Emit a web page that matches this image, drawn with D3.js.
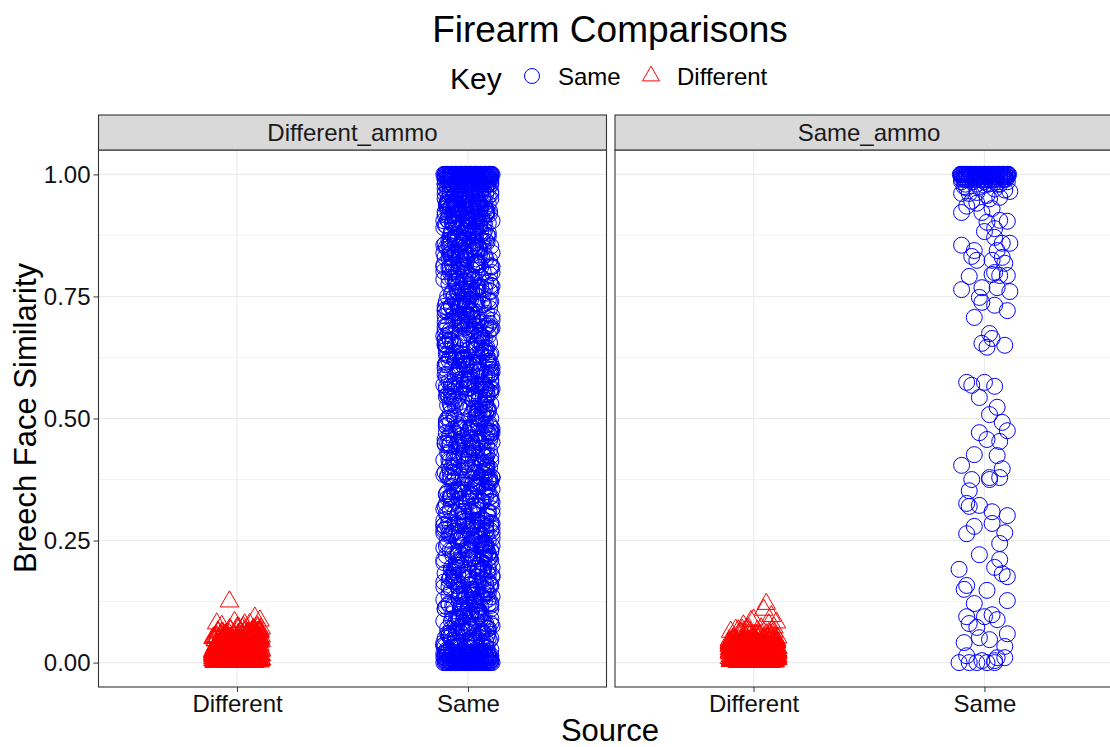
<!DOCTYPE html>
<html>
<head>
<meta charset="utf-8">
<script src="https://cdn.jsdelivr.net/npm/d3@7"></script>
<style>
body { margin: 0; background: #fff; }
svg text { font-family: "Liberation Sans", Arial, sans-serif; }
</style>
</head>
<body>
<div id="chart"></div>
<script>
// ---- data ----
const panels = ["Different_ammo", "Same_ammo"]
const sources = ["Different", "Same"]
const yTicks = [0, 0.25, 0.5, 0.75, 1]
const yMinor = [0.125, 0.375, 0.625, 0.875]

// jitter offsets, in units of jitterStep (a fraction of one category)
const jitterStep = 0.011
const jitA = [
  -7,3,8,-2,5,-9,1,6,-4,0, 9,-6,2,-8,4,-1,7,-5,3,-3,
  6,-8,0,4,-5,9,-2,7,-9,1, -4,5,-7,3,8,-1,-6,2,9,-3,
  -1,7,-5,2,9,-8,4,-3,6,0, -7,3,8,-4,1,-9,5,-2,7,-6,
  4,-2,9,-6,1,7,-9,3,-4,8, 0,-7,5,-1,6,-8,2,9,-3,-5,
  -9,5,-3,8,-6,2,0,-8,4,7, -2,9,-5,1,-7,6,3,-4,8,-1,
  2,-6,7,-1,9,-4,5,-9,0,3, -8,6,-3,8,-5,1,-7,4,-2,9,
  8,-3,1,-7,4,6,-9,2,-5,9, -1,-6,7,0,-4,3,-8,5,-2,6,
  -5,9,-2,5,-8,0,3,-6,8,-3, 6,-9,1,4,-7,7,-1,-4,9,2,
  3,-7,6,0,-4,8,-2,-9,5,-6, 9,1,-3,7,-8,4,-5,2,-1,8,
  -4,1,-8,9,3,-6,7,-1,-3,5, -9,2,8,-5,0,6,-7,4,9,-2,
  7,-4,2,-9,6,-1,8,-5,3,-7, 0,9,-3,5,-8,1,4,-6,-2,7,
  -2,8,-6,3,-9,5,-4,1,9,-5, 2,-8,6,-3,7,-7,0,8,-1,4,
  5,-1,9,-7,0,3,-5,8,-2,6, -9,4,-6,2,-3,9,-8,1,7,-4,
  -8,4,-3,6,8,-2,1,-7,5,-4, 3,-9,7,-6,9,0,-5,2,-1,6,
  1,-9,5,-4,7,-3,9,0,-6,8, -5,3,-1,6,-8,2,-2,9,-7,4
]
const jitB = [
  -8.5,2.5,6.5,-3.5,9.5,-0.5,4.5,-6.5,1.5,-9.5, 7.5,-4.5,0.5,8.5,-2.5,5.5,-7.5,3.5,-1.5,-5.5,
  3.5,-9.5,7.5,-1.5,5.5,-6.5,0.5,9.5,-3.5,2.5, -8.5,6.5,-4.5,1.5,-0.5,8.5,-5.5,4.5,-7.5,-2.5,
  9.5,-2.5,-6.5,4.5,-8.5,1.5,7.5,-0.5,-4.5,5.5, 2.5,-9.5,8.5,-3.5,0.5,-7.5,6.5,-1.5,3.5,-5.5,
  -4.5,7.5,0.5,-8.5,3.5,-1.5,9.5,-5.5,5.5,-2.5, -6.5,1.5,4.5,-9.5,8.5,-0.5,2.5,-3.5,6.5,-7.5,
  1.5,-5.5,8.5,-7.5,-0.5,6.5,-3.5,2.5,-9.5,4.5, 9.5,-1.5,-4.5,7.5,-6.5,0.5,5.5,-8.5,3.5,-2.5,
  -6.5,4.5,-1.5,9.5,-4.5,0.5,-8.5,6.5,2.5,-3.5, 5.5,-7.5,1.5,-0.5,7.5,-5.5,3.5,8.5,-9.5,-2.5,
  5.5,-0.5,-9.5,2.5,7.5,-5.5,3.5,-2.5,8.5,-7.5, 0.5,4.5,-6.5,9.5,-1.5,-4.5,6.5,1.5,-8.5,3.5,
  -2.5,8.5,-5.5,0.5,-7.5,4.5,-3.5,6.5,-9.5,1.5, -0.5,7.5,-4.5,2.5,5.5,-8.5,9.5,-6.5,-1.5,3.5,
  7.5,-3.5,3.5,-6.5,0.5,-9.5,5.5,-1.5,8.5,-4.5, -7.5,2.5,6.5,-2.5,9.5,-5.5,1.5,-8.5,4.5,-0.5,
  -0.5,6.5,-7.5,3.5,-2.5,8.5,-5.5,1.5,4.5,-8.5, 9.5,-3.5,-1.5,5.5,-9.5,2.5,7.5,-4.5,0.5,-6.5,
  4.5,-8.5,1.5,-4.5,6.5,-2.5,9.5,-6.5,-0.5,3.5, -5.5,8.5,0.5,-7.5,2.5,-3.5,5.5,-9.5,7.5,-1.5,
  -9.5,0.5,5.5,-2.5,8.5,-6.5,2.5,-4.5,6.5,-1.5, 3.5,-8.5,7.5,-5.5,-0.5,4.5,-7.5,9.5,1.5,-3.5,
  2.5,-6.5,9.5,-0.5,-5.5,3.5,-8.5,7.5,0.5,-3.5, 6.5,-1.5,-9.5,4.5,-4.5,8.5,-2.5,1.5,-7.5,5.5,
  -5.5,3.5,-2.5,7.5,1.5,-9.5,4.5,-7.5,9.5,-0.5, -3.5,5.5,-6.5,0.5,8.5,-4.5,2.5,-1.5,6.5,-8.5,
  0.5,-4.5,6.5,-8.5,3.5,-3.5,8.5,-1.5,-6.5,5.5, -9.5,2.5,-0.5,7.5,-5.5,4.5,-7.5,1.5,9.5,-2.5
]
const topJit = [
  -9.5,-8.5,-7.5,-6.5,-5.5,-4.5,-3.5,-2.5,-1.5,-0.5, 0.5,1.5,2.5,3.5,4.5,5.5,6.5,7.5,8.5,9.5,
  -9,-7,-5,-3,-1,1,3,5,7,9, -8,-6,-4,-2,0,2,4,6,8,-9,
  -7.5,-3.5,0.5,4.5,8.5,-9,-7.5,-6,-4.5,-3, -1.5,0,1.5,3,4.5,6,7.5,9,-8,5,
  -6,-4,-2,0,2,4,6,8,-9,-3, 1,-9,-7,-5,-3,-1,1,3,5,7,
  9,-8,-9,-6,-3,0,3,6,9,-1, -8,-4,0,4,8,-6,-7,-2,2,7
]

// Different_ammo, Same source (blue circles)
const daSameMid = [
  .53,.12,.88,.31,.67,.05,.79,.44,.22,.91, .60,.36,.15,.72,.49,.83,.27,.08,.64,.40,
  .19,.75,.57,.03,.86,.33,.46,.69,.11,.93, .25,.81,.38,.55,.07,.62,.90,.29,.47,.16,
  .70,.42,.84,.13,.58,.35,.77,.21,.51,.04, .66,.89,.30,.45,.10,.73,.56,.18,.92,.39,
  .26,.61,.09,.80,.48,.34,.71,.14,.87,.52, .24,.68,.02,.43,.85,.59,.32,.76,.20,.50,
  .65,.06,.82,.37,.54,.17,.74,.28,.93,.41, .63,.11,.78,.46,.23,.88,.57,.35,.69,.14,
  .44,.90,.27,.60,.08,.71,.38,.83,.19,.52, .67,.04,.79,.31,.56,.15,.86,.42,.24,.74,
  .12,.58,.35,.81,.47,.22,.66,.91,.03,.53, .29,.76,.40,.64,.18,.85,.50,.09,.70,.33,
  .87,.21,.62,.45,.06,.77,.36,.55,.13,.89, .41,.68,.26,.82,.49,.16,.73,.30,.59,.05,
  .39,.80,.15,.57,.92,.25,.48,.72,.10,.63, .34,.84,.20,.51,.07,.75,.43,.61,.28,.90,
  .54,.02,.69,.37,.86,.23,.46,.78,.14,.60, .32,.88,.05,.65,.42,.17,.81,.27,.50,.93,
  .08,.73,.44,.61,.19,.84,.35,.57,.91,.26, .70,.12,.48,.79,.38,.03,.66,.22,.87,.53,
  .31,.67,.10,.82,.45,.24,.76,.58,.16,.92, .40,.63,.06,.71,.29,.85,.52,.18,.74,.36,
  .77,.13,.56,.34,.89,.04,.62,.47,.21,.80, .39,.68,.09,.54,.83,.27,.45,.72,.15,.60,
  .43,.85,.20,.64,.07,.78,.33,.51,.93,.25, .69,.11,.56,.37,.81,.02,.74,.48,.30,.90,
  .16,.59,.38,.87,.28,.70,.05,.47,.83,.19, .62,.41,.76,.09,.55,.34,.88,.23,.66,.50
]
const daSameMid2 = [
  .345,.785,.125,.565,.905,.235,.675,.055,.455,.815, .185,.625,.395,.045,.735,.275,.865,.515,.095,.705,
  .645,.165,.925,.425,.285,.755,.035,.595,.335,.875, .485,.215,.685,.105,.825,.375,.545,.015,.915,.255,
  .075,.535,.265,.845,.615,.145,.405,.775,.195,.665, .925,.315,.475,.065,.725,.575,.235,.895,.435,.115,
  .805,.355,.695,.025,.505,.885,.175,.635,.295,.745, .085,.445,.835,.205,.555,.325,.935,.135,.685,.415,
  .245,.895,.465,.155,.715,.385,.605,.045,.855,.525, .275,.795,.015,.645,.195,.905,.365,.565,.085,.765,
  .555,.095,.745,.315,.875,.215,.485,.665,.125,.835, .405,.055,.595,.925,.265,.715,.175,.455,.785,.335,
  .035,.675,.385,.815,.145,.535,.905,.255,.725,.445, .625,.105,.865,.305,.495,.065,.765,.215,.585,.935,
  .465,.825,.185,.575,.025,.695,.355,.885,.235,.615, .915,.425,.075,.735,.285,.545,.135,.845,.395,.655,
  .705,.225,.505,.935,.425,.085,.655,.295,.795,.165, .545,.865,.245,.015,.605,.375,.755,.115,.485,.895,
  .135,.585,.855,.275,.695,.435,.005,.765,.515,.345, .195,.725,.625,.065,.905,.285,.475,.835,.225,.565,
  .895,.305,.045,.635,.375,.805,.255,.525,.925,.155, .455,.695,.345,.775,.105,.605,.865,.035,.715,.185,
  .415,.765,.575,.115,.925,.325,.845,.205,.645,.065, .735,.495,.875,.165,.385,.915,.265,.685,.005,.525,
  .615,.045,.285,.735,.505,.185,.935,.395,.075,.855, .225,.565,.155,.815,.445,.655,.025,.375,.905,.245,
  .185,.915,.445,.055,.805,.265,.595,.725,.355,.005, .665,.135,.885,.475,.215,.775,.545,.095,.835,.325,
  .755,.355,.635,.895,.105,.485,.215,.865,.545,.285, .035,.925,.405,.625,.175,.815,.055,.705,.265,.465
]
const daSameMid3 = [
  .873,.237,.617,.083,.497,.723,.143,.387,.917,.563, .027,.653,.313,.847,.193,.437,.777,.053,.587,.267,
  .433,.907,.173,.713,.347,.613,.023,.827,.273,.543, .757,.113,.467,.893,.213,.687,.403,.933,.157,.633,
  .687,.013,.527,.367,.853,.243,.943,.477,.133,.797, .313,.567,.063,.737,.393,.183,.883,.293,.643,.903,
  .157,.743,.287,.917,.443,.073,.603,.827,.227,.513, .873,.337,.697,.043,.567,.253,.783,.413,.113,.943,
  .923,.363,.817,.197,.657,.437,.107,.547,.767,.033, .623,.283,.937,.483,.173,.863,.323,.593,.223,.713,
  .283,.567,.043,.853,.227,.793,.413,.663,.907,.147, .383,.733,.253,.517,.837,.097,.627,.313,.947,.463,
  .613,.137,.927,.393,.703,.023,.457,.887,.287,.577, .813,.167,.543,.693,.033,.367,.927,.207,.763,.503,
  .047,.813,.363,.633,.947,.273,.557,.117,.743,.423, .203,.897,.337,.063,.673,.487,.803,.157,.593,.883,
  .737,.447,.193,.577,.867,.013,.347,.697,.937,.263, .483,.123,.763,.917,.303,.613,.043,.853,.407,.223,
  .353,.673,.907,.123,.503,.813,.233,.947,.073,.643, .857,.377,.167,.587,.283,.733,.447,.023,.683,.897,
  .563,.093,.703,.447,.183,.933,.617,.307,.873,.413, .123,.553,.827,.253,.943,.073,.517,.787,.347,.637,
  .843,.307,.477,.763,.033,.597,.193,.883,.423,.707, .277,.943,.083,.653,.537,.173,.833,.373,.613,.103,
  .207,.947,.633,.053,.787,.363,.867,.143,.523,.293, .917,.453,.703,.213,.093,.773,.337,.563,.863,.417,
  .527,.187,.837,.423,.623,.107,.743,.277,.933,.483, .043,.687,.393,.817,.573,.233,.903,.137,.447,.757,
  .093,.653,.333,.947,.243,.813,.473,.063,.607,.873, .383,.193,.727,.543,.933,.307,.663,.117,.837,.457
]
const daSameMid4 = [
  .611,.259,.931,.089,.471,.749,.321,.839,.149,.569, .401,.899,.021,.681,.219,.529,.789,.361,.941,.179,
  .821,.041,.589,.309,.669,.879,.139,.451,.729,.249, .939,.519,.089,.761,.381,.609,.191,.849,.289,.701,
  .329,.691,.019,.871,.239,.541,.921,.411,.781,.061, .641,.271,.489,.929,.159,.809,.359,.571,.109,.749,
  .489,.861,.231,.641,.941,.119,.701,.399,.571,.809, .031,.451,.899,.281,.631,.171,.521,.919,.349,.059,
  .911,.171,.739,.429,.081,.589,.281,.861,.019,.669, .379,.829,.199,.549,.729,.069,.909,.471,.241,.619,
  .069,.539,.369,.799,.209,.949,.491,.141,.679,.851, .259,.619,.041,.781,.441,.919,.319,.589,.129,.699,
  .741,.329,.891,.121,.559,.269,.819,.619,.011,.461, .889,.181,.731,.379,.621,.939,.221,.509,.851,.291,
  .259,.781,.039,.681,.401,.921,.149,.559,.839,.309, .611,.029,.469,.879,.191,.739,.561,.341,.099,.911,
  .549,.091,.819,.339,.711,.211,.629,.939,.369,.779, .139,.489,.941,.059,.811,.411,.279,.691,.929,.031,
  .879,.421,.119,.599,.931,.339,.749,.049,.539,.219, .709,.309,.861,.469,.011,.651,.231,.891,.579,.379,
  .199,.649,.941,.269,.479,.071,.839,.571,.231,.919, .351,.761,.589,.121,.689,.441,.049,.801,.519,.289,
  .669,.311,.511,.859,.159,.729,.429,.011,.899,.581, .199,.631,.359,.929,.061,.549,.829,.239,.719,.451,
  .389,.829,.179,.561,.941,.049,.651,.301,.751,.131, .569,.869,.291,.029,.931,.399,.639,.791,.169,.911,
  .931,.129,.689,.389,.029,.811,.261,.941,.479,.709, .851,.331,.149,.609,.379,.061,.719,.921,.239,.559,
  .459,.769,.241,.021,.631,.349,.919,.579,.189,.829, .281,.681,.891,.069,.419,.941,.501,.251,.771,.111
]
const daSameTop = [
  1,1,1,1,1,1,1,1,1,1, 1,1,1,1,1,1,1,1,1,1,
  1,1,1,1,1,1,1,1,1,1, .99,.99,.99,.99,.99,.99,.99,.99,.99,.99,
  .99,.99,.99,.99,.99,.98,.98,.98,.98,.98, .98,.98,.98,.98,.98,.98,.98,.98,.97,.97,
  .97,.97,.97,.97,.97,.97,.97,.97,.97,.97, .97,.96,.96,.96,.96,.96,.96,.96,.96,.96,
  .96,.96,.95,.95,.95,.95,.95,.95,.95,.95, .94,.94,.94,.94,.94,.94,.93,.93,.93,.93
]
// paired with jitA
const daSameTop2 = [
  1,1,1,1,1,1,1,1,1,1, 1,1,1,1,1,1,1,1,1,1,
  1,1,1,1,1,1,1,1,1,1, 1,1,1,1,1,1,1,1,1,1,
  .995,.995,.995,.995,.995,.995,.995,.995,.995,.995, .995,.995,.995,.995,.995,.995,.995,.995,.995,.995,
  .99,.99,.99,.99,.99,.99,.99,.99,.99,.99, .985,.985,.985,.985,.985,.985,.985,.985,.985,.985,
  .98,.98,.98,.98,.98,.975,.975,.975,.975,.975, .965,.965,.965,.965,.965,.955,.955,.955,.955,.955
]
const daSameLow = [
  0,0,0,0,0,0,0,0,0,0, 0,0,0,0,0,0,0,0,0,0,
  .01,.01,.01,.01,.01,.01,.01,.01,.01,.01, .02,.02,.02,.02,.02,.02,.02,.02,.02,.02
]
// paired with jitA
const daSameLow2 = [
  0,0,0,0,0,0,0,0,0,0, 0,0,0,0,0,0,0,0,0,0,
  .005,.005,.005,.005,.005,.005,.005,.005,.005,.005, .005,.005,.005,.005,.005,.005,.005,.005,.005,.005,
  .015,.015,.015,.015,.015,.015,.015,.015,.015,.015, .015,.015,.015,.015,.015,.015,.015,.015,.015,.015
]

// Different_ammo, Different source (red triangles)
const daDiff = [
  .012,.031,.004,.046,.020,.008,.055,.027,.015,.039, .002,.061,.024,.011,.043,.018,.033,.006,.050,.026,
  .009,.037,.021,.003,.048,.014,.029,.066,.001,.041, .019,.034,.007,.053,.023,.012,.045,.030,.005,.058,
  .016,.027,.040,.010,.062,.022,.004,.036,.049,.013, .028,.002,.070,.019,.035,.008,.044,.025,.057,.011,
  .031,.006,.052,.017,.038,.001,.024,.047,.014,.063, .029,.009,.042,.021,.005,.054,.033,.018,.068,.026,
  .003,.045,.020,.035,.010,.059,.027,.015,.040,.007, .051,.023,.032,.002,.047,.013,.038,.019,.074,.028,
  .011,.034,.025,.056,.004,.042,.016,.030,.008,.049, .021,.065,.012,.037,.001,.044,.026,.053,.015,.036,
  .022,.005,.043,.013,.060,.028,.009,.039,.018,.050, .003,.032,.024,.071,.010,.046,.019,.035,.006,.057,
  .014,.048,.027,.002,.037,.020,.064,.011,.041,.025, .008,.052,.030,.016,.045,.004,.034,.023,.067,.017,
  .029,.010,.054,.019,.035,.006,.044,.024,.013,.060, .031,.001,.047,.021,.038,.009,.055,.015,.028,.042,
  .007,.040,.018,.063,.026,.012,.050,.033,.003,.045, .022,.069,.016,.036,.011,.058,.027,.005,.043,.020
]
// paired with jitB
const daDiff2 = [
  .017,.042,.007,.029,.053,.013,.036,.002,.047,.022, .010,.058,.025,.004,.039,.016,.064,.031,.008,.044,
  .027,.005,.050,.019,.035,.011,.068,.024,.040,.001, .032,.015,.056,.021,.009,.046,.028,.003,.061,.037,
  .006,.033,.018,.060,.012,.043,.026,.002,.052,.020, .038,.009,.048,.016,.072,.030,.004,.041,.023,.014,
  .045,.011,.031,.003,.057,.024,.015,.039,.007,.066, .019,.034,.001,.050,.027,.012,.043,.021,.036,.005,
  .022,.054,.009,.037,.017,.002,.048,.030,.013,.062, .026,.006,.041,.019,.034,.010,.059,.025,.003,.046,
  .013,.040,.028,.070,.005,.033,.018,.051,.023,.008, .044,.016,.029,.001,.055,.037,.011,.063,.020,.032,
  .035,.003,.024,.047,.014,.060,.026,.009,.042,.019, .053,.006,.031,.015,.039,.002,.067,.022,.045,.012,
  .004,.049,.020,.034,.010,.043,.027,.065,.016,.038, .001,.029,.056,.012,.023,.046,.007,.036,.018,.052,
  .028,.015,.041,.006,.059,.021,.033,.011,.048,.002, .037,.025,.069,.014,.044,.008,.030,.054,.017,.039,
  .010,.057,.032,.018,.003,.045,.024,.062,.013,.035, .006,.050,.021,.040,.016,.073,.027,.009,.047,.031
]
const daDiffHigh = [[.125,-3],[.086,9],[.092,7],[.080,-8],[.078,3],[.083,-1],[.075,-6],[.079,5]]

// Same_ammo, Different source (red triangles)
const saDiff = [
  .008,.021,.003,.035,.014,.027,.001,.042,.018,.010, .031,.005,.024,.047,.012,.038,.002,.029,.016,.052,
  .019,.006,.033,.011,.044,.023,.002,.015,.039,.027, .009,.058,.020,.004,.036,.013,.030,.007,.041,.025,
  .001,.028,.014,.040,.009,.022,.049,.017,.003,.034, .011,.026,.063,.006,.019,.037,.013,.045,.024,.002,
  .032,.010,.021,.005,.043,.016,.029,.001,.038,.012, .055,.023,.007,.035,.018,.003,.027,.046,.014,.031,
  .004,.025,.039,.011,.019,.002,.034,.050,.015,.028, .006,.041,.022,.009,.067,.017,.033,.001,.026,.013,
  .020,.037,.008,.030,.044,.013,.024,.003,.040,.016, .032,.060,.010,.021,.005,.036,.018,.048,.028,.007,
  .015,.001,.027,.042,.010,.033,.019,.054,.006,.024, .038,.012,.029,.002,.045,.020,.009,.035,.071,.017,
  .026,.011,.036,.004,.022,.047,.014,.031,.008,.040, .018,.003,.057,.025,.012,.034,.006,.043,.021,.010,
  .003,.030,.017,.039,.009,.023,.064,.013,.036,.001, .027,.045,.016,.005,.032,.052,.020,.011,.038,.024,
  .012,.041,.006,.025,.034,.002,.019,.049,.029,.015, .007,.037,.023,.061,.010,.030,.004,.044,.018,.033
]
// paired with jitB
const saDiff2 = [
  .013,.028,.004,.040,.019,.009,.033,.002,.024,.046, .015,.006,.037,.021,.011,.051,.026,.003,.031,.017,
  .007,.036,.016,.025,.001,.043,.012,.030,.020,.056, .009,.034,.023,.004,.039,.014,.027,.048,.010,.018,
  .024,.003,.041,.015,.031,.008,.053,.019,.012,.035, .001,.027,.044,.017,.006,.032,.022,.062,.011,.038,
  .016,.045,.009,.029,.002,.037,.021,.013,.050,.026, .005,.034,.018,.042,.010,.023,.003,.039,.057,.014,
  .030,.011,.022,.047,.006,.033,.016,.001,.040,.025, .013,.054,.020,.008,.036,.027,.004,.044,.017,.069,
  .002,.038,.019,.010,.049,.024,.007,.031,.014,.042, .028,.003,.035,.021,.059,.012,.026,.005,.040,.018,
  .021,.006,.033,.016,.043,.001,.028,.011,.052,.024, .009,.038,.019,.030,.004,.046,.014,.065,.025,.036,
  .011,.041,.004,.026,.018,.034,.008,.048,.022,.013, .039,.002,.029,.055,.016,.031,.007,.023,.044,.010,
  .035,.014,.027,.003,.046,.019,.009,.037,.024,.060, .012,.032,.001,.042,.020,.027,.050,.006,.017,.039,
  .008,.029,.045,.012,.022,.002,.040,.017,.033,.006, .051,.025,.015,.036,.009,.043,.020,.067,.028,.004
]
const saDiffHigh = [[.120,5],[.108,4],[.095,7],[.088,0],[.063,-9],[.082,9],[.076,-4],[.070,3],
  [.085,-1],[.078,6],[.066,-6],[.072,8]]

// Same_ammo, Same source (blue circles)
const saSameTop = [
  1,1,1,1,1,1,1,1,1,1, 1,1,1,1,1,1,1,1,1,1,
  1,1,1,1,1,1,1,1,1,1, .99,.99,.99,.99,.99,.99,.99,.99,.99,.99,
  .99,.99,.99,.99,.99,.985,.98,.99,.985,.98, .99,.985,.98,.99,.985,.98,.99,.985,.975,.98
]
// paired with jitA
const saSameTop2 = [
  1,1,1,1,1,1,1,1,1,1, 1,1,1,1,1,1,1,1,1,1,
  1,1,1,1,1,1,1,1,1,1, 1,1,1,1,1,1,1,1,1,1,
  .995,.995,.995,.995,.995,.995,.995,.995,.995,.995, .995,.995,.995,.995,.995,.995,.995,.995,.995,.995
]
const saSame = [
  [.972,-7],[.975,-2],[.970,4],[.968,8],[.978,0],[.945,-5],[.950,2],[.935,-7],
  [.961,-9],[.961,-6],[.963,-3],[.957,1],[.953,6],[.965,10],[.922,-9],[.941,-3],[.922,-1],[.930,3],
  [.906,6],[.904,9],[.902,1],[.889,4],[.883,0],[.871,4],[.859,7],[.859,10],[.855,-9],[.844,-4],
  [.832,-5],[.824,-3],[.844,5],[.824,3],[.830,7],[.818,8],[.799,4],[.791,-6],[.793,6],[.793,9],
  [.795,3],[.764,-9],[.768,-1],[.768,5],[.760,10],[.748,-2],[.738,-1],[.707,-4],[.732,4],[.721,9],
  [.674,2],[.664,3],[.654,-1],[.646,1],[.650,8],
  [.574,-7],[.568,-5],[.574,0],[.566,4],[.543,-2],[.523,5],[.508,2],[.492,7],[.475,9],[.471,-2],
  [.457,1],[.453,6],[.426,-4],[.424,5],[.404,-9],[.397,7],[.375,-5],[.379,2],[.375,2],[.379,6],
  [.352,-6],[.326,-7],[.320,-6],[.322,-2],[.309,3],[.301,9],[.279,-4],[.264,-7],[.285,3],[.266,8],
  [.244,6],[.221,-2],[.211,6],[.191,-10],[.195,4],[.182,7],[.176,9],[.158,-7],[.150,-8],[.148,1],
  [.121,-4],[.127,9],[.094,-7],[.094,0],[.098,3],[.088,5],[.080,-6],[.072,-3],[.059,9],[.051,-2],
  [.041,-8],[.047,2],[.033,8],[.014,-7],[0,-10],[0,-6],[.004,-1],[0,1],[.004,4],[.010,5],
  [.010,8],[0,-3],[0,4]
]

// ---- build point records ----
function makePoints(panel, source, vals, jit) {
    return vals.map((v, i) => ({ panel: panel, source: source, value: v, jitter: jit[i] * jitterStep }))
}
function fromPairs(panel, source, pairs) {
    return pairs.map(p => ({ panel: panel, source: source, value: p[0], jitter: p[1] * jitterStep }))
}

let points = [].concat(
    makePoints("Different_ammo", "Same", daSameMid, jitA),
    makePoints("Different_ammo", "Same", daSameMid2, jitB),
    makePoints("Different_ammo", "Same", daSameMid3, jitA),
    makePoints("Different_ammo", "Same", daSameMid4, jitB),
    makePoints("Different_ammo", "Same", daSameTop, topJit),
    makePoints("Different_ammo", "Same", daSameTop2, jitA),
    makePoints("Different_ammo", "Same", daSameLow, topJit),
    makePoints("Different_ammo", "Same", daSameLow2, jitA),
    makePoints("Different_ammo", "Different", daDiff, jitA),
    makePoints("Different_ammo", "Different", daDiff2, jitB),
    fromPairs("Different_ammo", "Different", daDiffHigh),
    makePoints("Same_ammo", "Different", saDiff, jitA),
    makePoints("Same_ammo", "Different", saDiff2, jitB),
    fromPairs("Same_ammo", "Different", saDiffHigh),
    makePoints("Same_ammo", "Same", saSameTop, topJit),
    makePoints("Same_ammo", "Same", saSameTop2, jitA),
    fromPairs("Same_ammo", "Same", saSame)
).filter(d => isFinite(d.jitter))

// ---- setup canvas ----
let width = 1110
let height = 747
let panelLeft = [98.5, 615]
let panelW = 508
let panelTop = 150
let panelBottom = 687
let stripTop = 115

let svg = d3.select("#chart").append("svg")
    .attr("width", width)
    .attr("height", height)

let x = d3.scaleLinear().domain([0.4, 2.6]).range([0, panelW])
let y = d3.scaleLinear().domain([-0.05, 1.05]).range([panelBottom, panelTop])
let catIndex = { "Different": 1, "Same": 2 }
let colour = { "Same": "#0000ff", "Different": "#ff0000" }
let tri = d3.symbol().type(d3.symbolTriangle).size(150)

panels.forEach(function(panel, pi) {
    let g = svg.append("g").attr("transform", "translate(" + panelLeft[pi] + ",0)")

    g.append("rect")
        .attr("x", 0).attr("y", panelTop)
        .attr("width", panelW).attr("height", panelBottom - panelTop)
        .attr("fill", "white")

    // grid
    g.selectAll(".minor").data(yMinor).enter().append("line")
        .attr("x1", 0).attr("x2", panelW)
        .attr("y1", d => y(d)).attr("y2", d => y(d))
        .attr("stroke", "#ebebeb").attr("stroke-width", 0.6)
    g.selectAll(".major").data(yTicks).enter().append("line")
        .attr("x1", 0).attr("x2", panelW)
        .attr("y1", d => y(d)).attr("y2", d => y(d))
        .attr("stroke", "#ebebeb").attr("stroke-width", 1.1)
    g.selectAll(".vmajor").data(sources).enter().append("line")
        .attr("x1", d => x(catIndex[d])).attr("x2", d => x(catIndex[d]))
        .attr("y1", panelTop).attr("y2", panelBottom)
        .attr("stroke", "#ebebeb").attr("stroke-width", 1.1)

    // points
    let clipId = "clip" + pi
    g.append("clipPath").attr("id", clipId).append("rect")
        .attr("x", 0).attr("y", panelTop)
        .attr("width", panelW).attr("height", panelBottom - panelTop)

    let pts = g.append("g").attr("clip-path", "url(#" + clipId + ")")
    let data = points.filter(d => d.panel === panel)

    pts.selectAll("circle")
        .data(data.filter(d => d.source === "Same"))
        .enter().append("circle")
        .attr("cx", d => x(catIndex[d.source] + d.jitter))
        .attr("cy", d => y(d.value))
        .attr("r", 8)
        .attr("fill", "none")
        .attr("stroke", colour["Same"])
        .attr("stroke-width", 1)

    pts.selectAll("path")
        .data(data.filter(d => d.source === "Different"))
        .enter().append("path")
        .attr("d", tri)
        .attr("transform", d => "translate(" + x(catIndex[d.source] + d.jitter) + "," + y(d.value) + ")")
        .attr("fill", "none")
        .attr("stroke", colour["Different"])
        .attr("stroke-width", 1)

    // border
    g.append("rect")
        .attr("x", 0).attr("y", panelTop)
        .attr("width", panelW).attr("height", panelBottom - panelTop)
        .attr("fill", "none").attr("stroke", "#333").attr("stroke-width", 1.1)

    // strip
    g.append("rect")
        .attr("x", 0).attr("y", stripTop)
        .attr("width", panelW).attr("height", panelTop - stripTop)
        .attr("fill", "#d9d9d9").attr("stroke", "#333").attr("stroke-width", 1.1)
    g.append("text")
        .attr("x", panelW / 2).attr("y", 141)
        .attr("text-anchor", "middle")
        .attr("font-size", 24).attr("fill", "#1a1a1a")
        .text(panel)

    // x axis
    let xAxis = g.append("g")
        .attr("transform", "translate(0," + panelBottom + ")")
        .call(d3.axisBottom(x).tickValues([1, 2]).tickFormat(d => sources[d - 1]).tickSize(5).tickPadding(3))
    xAxis.select(".domain").remove()
    xAxis.selectAll("line").attr("stroke", "#333")
    xAxis.selectAll("text").attr("font-size", 24).attr("fill", "#111")
        .style("font-family", '"Liberation Sans", Arial, sans-serif')

    // y axis on first panel only
    if (pi === 0) {
        let yAxis = g.append("g")
            .call(d3.axisLeft(y).tickValues(yTicks).tickFormat(d3.format(".2f")).tickSize(5).tickPadding(3))
        yAxis.select(".domain").remove()
        yAxis.selectAll("line").attr("stroke", "#333")
        yAxis.selectAll("text").attr("font-size", 24).attr("fill", "#111")
            .style("font-family", '"Liberation Sans", Arial, sans-serif')
    }
})

// titles
svg.append("text")
    .attr("x", 610).attr("y", 42)
    .attr("text-anchor", "middle")
    .attr("font-size", 37)
    .text("Firearm Comparisons")

svg.append("text")
    .attr("x", 610).attr("y", 741)
    .attr("text-anchor", "middle")
    .attr("font-size", 31)
    .text("Source")

svg.append("text")
    .attr("transform", "translate(36,418) rotate(-90)")
    .attr("text-anchor", "middle")
    .attr("font-size", 31)
    .text("Breech Face Similarity")

// legend
let legend = svg.append("g")
legend.append("text").attr("x", 450).attr("y", 89).attr("font-size", 30).text("Key")
legend.append("circle")
    .attr("cx", 532).attr("cy", 76).attr("r", 7.5)
    .attr("fill", "none").attr("stroke", colour["Same"]).attr("stroke-width", 1)
legend.append("text").attr("x", 558).attr("y", 85).attr("font-size", 24).text("Same")
legend.append("path")
    .attr("d", d3.symbol().type(d3.symbolTriangle).size(125))
    .attr("transform", "translate(651,76)")
    .attr("fill", "none").attr("stroke", colour["Different"]).attr("stroke-width", 1)
legend.append("text").attr("x", 677).attr("y", 85).attr("font-size", 24).text("Different")
</script>
</body>
</html>
